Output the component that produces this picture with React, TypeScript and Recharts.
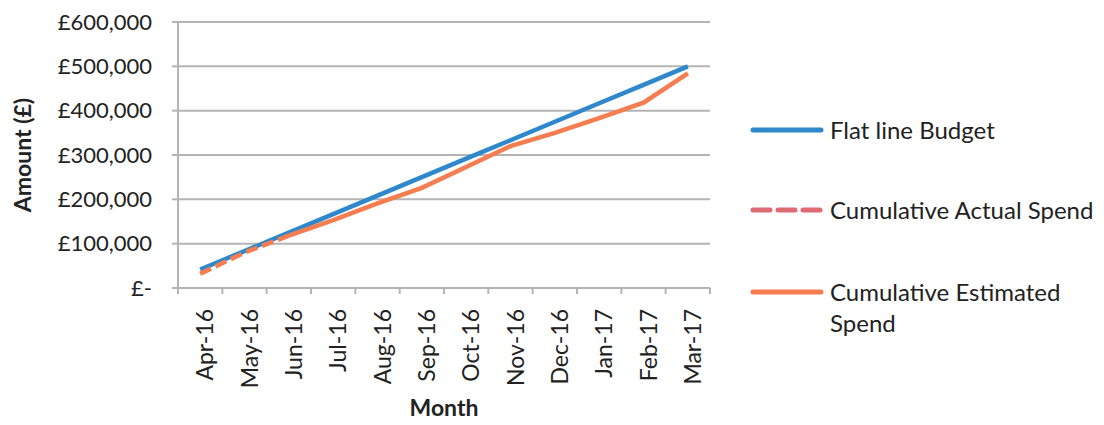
import React from 'react'
import { LineChart, Line, XAxis, YAxis, CartesianGrid, Label } from 'recharts'

const months = ['Apr-16', 'May-16', 'Jun-16', 'Jul-16', 'Aug-16', 'Sep-16', 'Oct-16', 'Nov-16', 'Dec-16', 'Jan-17', 'Feb-17', 'Mar-17']
const budget = [41667, 83333, 125000, 166667, 208333, 250000, 291667, 333333, 375000, 416667, 458333, 500000]
const actualSpend: (number | null)[] = [32000, 80000, 118000, null, null, null, null, null, null, null, null, null]
const estimatedSpend: (number | null)[] = [null, null, 118000, 153000, 191000, 226000, 273000, 320000, 350000, 383000, 418000, 484000]
const yTicks = [0, 100000, 200000, 300000, 400000, 500000, 600000]

const data = months.map((m, i) => ({
  month: m,
  budget: budget[i],
  actual: actualSpend[i],
  estimated: estimatedSpend[i],
}))

const FONT = 'Lato, "Open Sans", sans-serif'
const TEXT = '#222'
const GRID = '#b4b4b4'
const BLUE = '#2f88cc'
const ORANGE = '#f57d4f'
const PINK = '#dd6a74'

const W = 1104
const H = 425
const PLOT_LEFT = 178
const PLOT_RIGHT = 710
const STEP = (PLOT_RIGHT - PLOT_LEFT) / months.length

const fmtMoney = (v: number) => (v === 0 ? '£-' : '£' + v.toLocaleString('en-GB'))

// rotated month label + tick marks on the category boundaries
function MonthTick(props: any) {
  const { x, y, payload, index } = props
  const y0 = y - 8
  return (
    <g>
      <line x1={x - STEP / 2} x2={x - STEP / 2} y1={y0} y2={y0 + 6} stroke={GRID} strokeWidth={2} />
      {index === months.length - 1 && (
        <line x1={x + STEP / 2} x2={x + STEP / 2} y1={y0} y2={y0 + 6} stroke={GRID} strokeWidth={2} />
      )}
      <text
        x={x + 5}
        y={y0 + 21}
        transform={`rotate(-90, ${x + 5}, ${y0 + 21})`}
        textAnchor="end"
        dy="0.36em"
        fontSize={23}
        fontFamily={FONT}
        fill={TEXT}
      >
        {payload.value}
      </text>
    </g>
  )
}

function LegendSample({ kind }: { kind: string }) {
  if (kind === 'dash') {
    return (
      <svg width={74} height={8}>
        <line x1={3} x2={72} y1={4} y2={4} stroke={PINK} strokeWidth={5} strokeDasharray="17 8" strokeLinecap="round" />
      </svg>
    )
  }
  return (
    <svg width={74} height={8}>
      <line x1={3} x2={71} y1={4} y2={4} stroke={kind === 'blue' ? BLUE : ORANGE} strokeWidth={5} strokeLinecap="round" />
    </svg>
  )
}

function ChartLegend() {
  const row = (top: number, kind: string, lines: string[]) => (
    <div style={{ position: 'absolute', left: 0, top, display: 'flex', alignItems: 'flex-start' }}>
      <div style={{ width: 80, height: 31, display: 'flex', alignItems: 'center' }}>
        <LegendSample kind={kind} />
      </div>
      <div style={{ lineHeight: '31px', whiteSpace: 'nowrap' }}>
        {lines.map((l) => (
          <div key={l}>{l}</div>
        ))}
      </div>
    </div>
  )
  return (
    <div style={{ position: 'absolute', left: 750, top: 114, width: 354, height: 240, fontFamily: FONT, fontSize: 24, color: TEXT }}>
      {row(0, 'blue', ['Flat line Budget'])}
      {row(80, 'dash', ['Cumulative Actual Spend'])}
      {row(162, 'orange', ['Cumulative Estimated', 'Spend'])}
    </div>
  )
}

export default function App() {
  return (
    <div style={{ position: 'absolute', left: 0, top: 0, width: W, height: H, background: '#fff' }}>
      <LineChart width={W} height={H} data={data} margin={{ top: 22, right: W - PLOT_RIGHT, bottom: 0, left: 0 }}>
        <CartesianGrid vertical={false} stroke={GRID} strokeWidth={2} />
        <XAxis
          dataKey="month"
          height={H - 288}
          padding={{ left: STEP / 2, right: STEP / 2 }}
          stroke={GRID}
          strokeWidth={2}
          tickLine={false}
          interval={0}
          tick={<MonthTick />}
        >
          <Label
            content={(p: any) => {
              const vb = p.viewBox
              return (
                <text x={vb.x + vb.width / 2} y={410} textAnchor="middle" dominantBaseline="middle" fontSize={23} fontWeight={700} fontFamily={FONT} fill={TEXT}>
                  Month
                </text>
              )
            }}
          />
        </XAxis>
        <YAxis
          width={PLOT_LEFT}
          domain={[0, 600000]}
          ticks={yTicks}
          tickFormatter={fmtMoney}
          stroke={GRID}
          strokeWidth={2}
          tickSize={6}
          tickMargin={20}
          tick={{ fontSize: 22, fontFamily: FONT, fill: TEXT }}
        >
          <Label
            content={(p: any) => {
              const vb = p.viewBox
              const cy = vb.y + vb.height / 2
              return (
                <text x={25} y={cy} transform={`rotate(-90, 25, ${cy})`} textAnchor="middle" dominantBaseline="middle" fontSize={23} fontWeight={700} fontFamily={FONT} fill={TEXT}>
                  Amount (£)
                </text>
              )
            }}
          />
        </YAxis>
        <Line dataKey="budget" stroke={BLUE} strokeWidth={4.5} dot={false} isAnimationActive={false} />
        <Line dataKey="estimated" stroke={ORANGE} strokeWidth={4.5} dot={false} isAnimationActive={false} />
        <Line dataKey="actual" stroke={ORANGE} strokeWidth={4.5} strokeDasharray="12 5" dot={false} isAnimationActive={false} />
      </LineChart>
      <ChartLegend />
    </div>
  )
}
